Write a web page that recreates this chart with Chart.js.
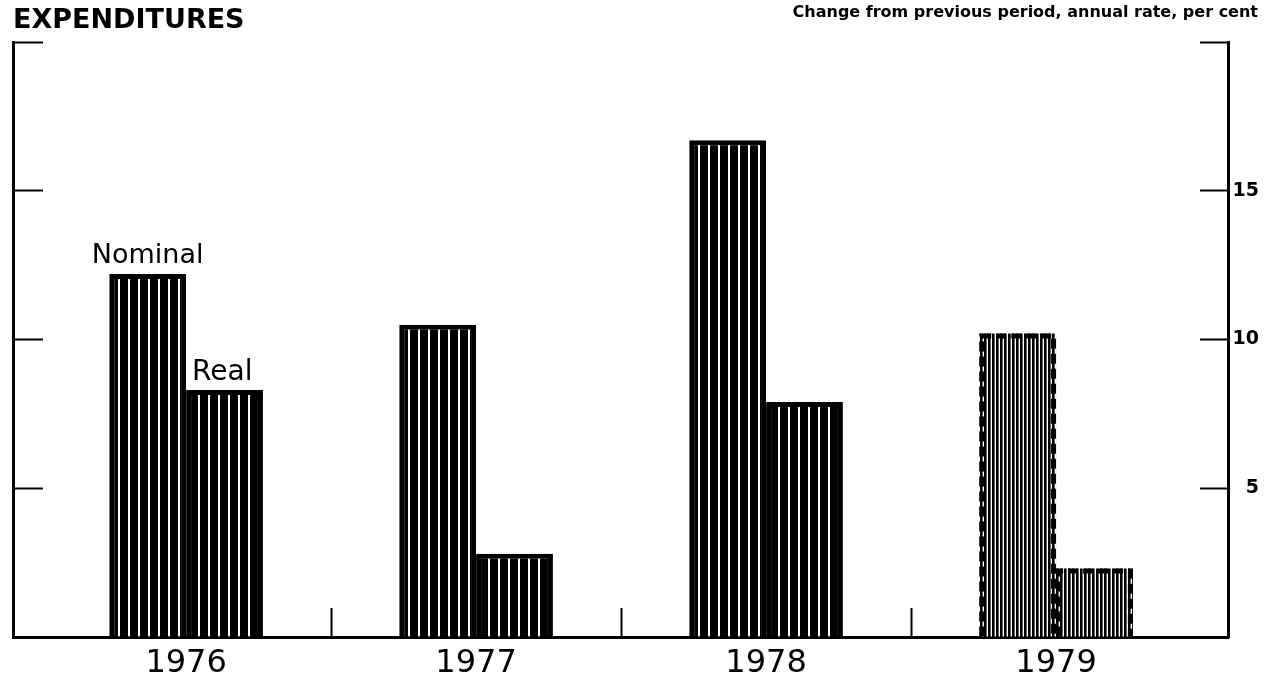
<!DOCTYPE html>
<html><head><meta charset="utf-8">
<script src="https://cdn.jsdelivr.net/npm/chart.js@4.4.1/dist/chart.umd.min.js"></script>
<style>
html,body{margin:0;padding:0;background:#fff;}
#wrap{position:relative;width:1276px;height:677px;overflow:hidden;background:#fff;}
#c{position:absolute;left:0;top:0;}
.hd{position:absolute;font-family:"DejaVu Sans",sans-serif;font-weight:bold;color:#000;white-space:nowrap;line-height:1;}
#t1{left:13px;top:5px;font-size:27px;}
#t2{right:18px;top:4px;font-size:16px;}
</style></head><body>
<div id="wrap"><canvas id="c" width="1276" height="677"></canvas>
<div class="hd" id="t1">EXPENDITURES</div>
<div class="hd" id="t2">Change from previous period, annual rate, per cent</div></div>
<script>
const categories = ['1976', '1977', '1978', '1979'];
const seriesNames = ['Nominal', 'Real'];
const nominal = [12.2, 10.5, 16.7, 10.2];
const real = [8.3, 2.8, 7.9, 2.3];
const projected = [false, false, false, true];
const yTickValues = [0, 5, 10, 15, 20];
const yTickLabels = ['', '5', '10', '15', ''];

function makePattern(period, black) {
  const p = document.createElement('canvas');
  p.width = period; p.height = 8;
  const g = p.getContext('2d');
  g.fillStyle = '#fff'; g.fillRect(0, 0, period, 8);
  g.fillStyle = '#000'; g.fillRect(0, 0, black, 8);
  return document.getElementById('c').getContext('2d').createPattern(p, 'repeat');
}
const solidStripe = makePattern(10, 8);
const fineStripe = makePattern(4, 2.6);

const fills = projected.map(p => p ? fineStripe : solidStripe);
const borders = projected.map(p => p ? 0 : 5);

const annot = {
  id: 'annot',
  afterDatasetsDraw(chart) {
    const c = chart.ctx;
    chart.data.datasets.forEach((ds, di) => {
      const meta = chart.getDatasetMeta(di);
      meta.data.forEach((el, i) => {
        if (!projected[i]) return;
        const p = el.getProps(['x', 'y', 'base', 'width'], true);
        const l = p.x - p.width / 2 + 2.5, r = p.x + p.width / 2 - 2.5, t = p.y + 2.5;
        c.save();
        c.setLineDash([10, 5]);
        c.lineWidth = 5;
        c.strokeStyle = '#000';
        c.beginPath();
        c.moveTo(l, p.base); c.lineTo(l, t); c.lineTo(r, t); c.lineTo(r, p.base);
        c.stroke();
        c.restore();
      });
    });
    const m0 = chart.getDatasetMeta(0).data[0];
    const m1 = chart.getDatasetMeta(1).data[0];
    c.save();
    c.font = '27px "DejaVu Sans"';
    c.fillStyle = '#000';
    c.textBaseline = 'alphabetic';
    c.textAlign = 'center';
    c.fillText(seriesNames[0], m0.x, m0.y - 11);
    c.textAlign = 'left';
    c.font = '28px "DejaVu Sans"';
    c.fillText(seriesNames[1], m1.x - m1.width / 2 + 6, m1.y - 10);
    c.restore();
  }
};

const tickColor = c => (c.type === 'tick' && c.tick && c.tick.value > 0 ) ? '#000' : 'rgba(0,0,0,0)';
const xTickColor = c => (c.type === 'tick' && c.index > 0) ? '#000' : 'rgba(0,0,0,0)';

new Chart(document.getElementById('c'), {
  type: 'bar',
  data: {
    datasets: [
      { label: seriesNames[0], data: nominal.map((v, i) => ({ x: i, y: v })),
        backgroundColor: fills, borderColor: '#000', borderWidth: borders, borderSkipped: 'bottom', yAxisID: 'y' },
      { label: seriesNames[1], data: real.map((v, i) => ({ x: i, y: v })),
        backgroundColor: fills, borderColor: '#000', borderWidth: borders, borderSkipped: 'bottom', yAxisID: 'y' }
    ]
  },
  options: {
    responsive: false,
    animation: false,
    layout: { padding: { top: 42, left: 0, right: 17, bottom: 0 } },
    datasets: { bar: { categoryPercentage: 0.53, barPercentage: 1 } },
    plugins: { legend: { display: false }, tooltip: { enabled: false }, title: { display: false } },
    scales: {
      x: {
        type: 'linear', position: 'bottom', min: -0.597, max: 3.593, offset: false, bounds: 'data',
        afterBuildTicks: s => { s.ticks = categories.map((c, i) => ({ value: i })); },
        afterFit: s => { s.height = 40; },
        ticks: { autoSkip: false, maxRotation: 0, minRotation: 0, padding: 36, color: '#000',
          font: { family: 'DejaVu Sans', size: 32 }, callback: v => categories[v] },
        grid: { offset: true, drawOnChartArea: false, tickLength: -29, tickWidth: 2, color: xTickColor, tickColor: xTickColor },
        border: { display: true, color: '#000', width: 3 }
      },
      y: {
        type: 'linear', position: 'right', min: 0, max: 20,
        afterBuildTicks: s => { s.ticks = yTickValues.map(v => ({ value: v })); },
        afterFit: s => { s.width = 31; },
        ticks: { color: '#000', padding: 15, crossAlign: 'far', autoSkip: false,
          font: { family: 'DejaVu Sans', weight: 'bold', size: 19 },
          callback: (v, i) => yTickLabels[yTickValues.indexOf(v)] },
        grid: { drawOnChartArea: false, tickLength: -28, tickWidth: 2, color: tickColor, tickColor: tickColor },
        border: { display: true, color: '#000', width: 3 }
      },
      yL: {
        type: 'linear', position: 'left', min: 0, max: 20,
        afterBuildTicks: s => { s.ticks = yTickValues.map(v => ({ value: v })); },
        afterFit: s => { s.width = 13; },
        ticks: { autoSkip: false, callback: () => '' },
        grid: { drawOnChartArea: false, tickLength: -30, tickWidth: 2, color: tickColor, tickColor: tickColor },
        border: { display: true, color: '#000', width: 3 }
      }
    }
  },
  plugins: [annot]
});
</script>
</body></html>
